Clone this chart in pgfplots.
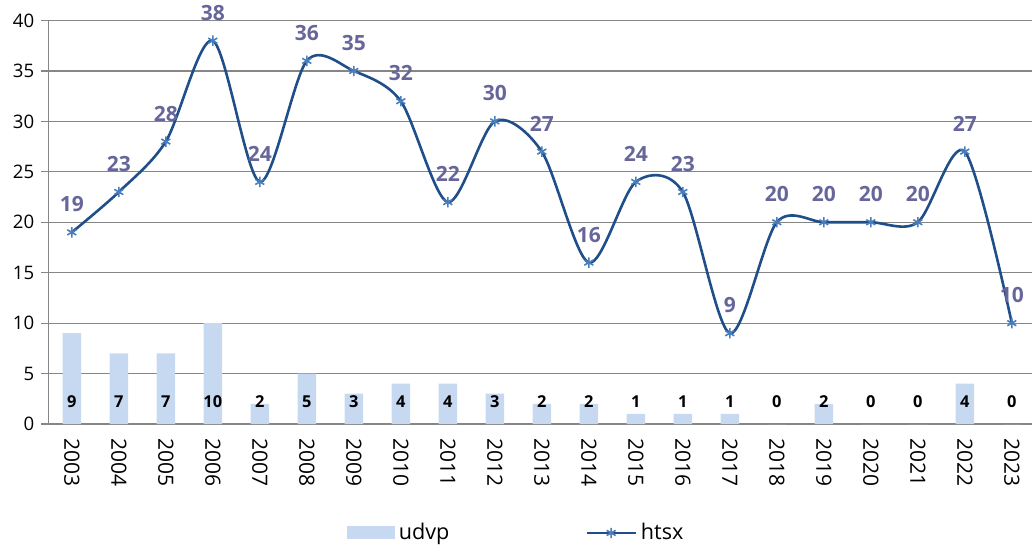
\documentclass[border=0pt]{standalone}
\usepackage{fontspec}
\setmainfont{Open Sans}
\usepackage{pgfplots}
\usepackage{pgfplotstable}
\pgfplotsset{compat=1.18}
\definecolor{barblue}{HTML}{C6D9F1}
\definecolor{linedark}{HTML}{1F4E89}
\definecolor{markblue}{HTML}{4A7EBB}
\definecolor{lblpurple}{HTML}{66669A}
\definecolor{gridgray}{HTML}{868686}
\pgfplotsset{
  mylineleg/.style={legend image code/.code={\draw[mark repeat=2, mark phase=2, ##1] plot coordinates {(0pt,0pt) (12.25pt,0pt) (24.5pt,0pt)};}},
  mybarleg/.style={legend image code/.code={\fill[barblue] (0pt,-3.25pt) rectangle (24pt,3.25pt);}},
}
\pgfplotstableread{
x year udvp htsx
0 2003 9 19
1 2004 7 23
2 2005 7 28
3 2006 10 38
4 2007 2 24
5 2008 5 36
6 2009 3 35
7 2010 4 32
8 2011 4 22
9 2012 3 30
10 2013 2 27
11 2014 2 16
12 2015 1 24
13 2016 1 23
14 2017 1 9
15 2018 0 20
16 2019 2 20
17 2020 0 20
18 2021 0 20
19 2022 4 27
20 2023 0 10
}\data
\begin{document}
\begin{tikzpicture}
\begin{axis}[
  at={(0pt,0pt)}, anchor=south west,
  scale only axis, width=493.5pt, height=201.75pt,
  xmin=-0.5, xmax=20.5, ymin=0, ymax=40,
  axis x line*=bottom, axis y line*=left,
  axis line style={gridgray, line width=0.6pt},
  /pgf/number format/assume math mode=true,
  ytick={0,5,...,40}, ymajorgrids,
  grid style={gridgray, line width=0.6pt},
  tick align=outside,
  y tick style={gridgray, line width=0.6pt},
  major tick length=3.5pt,
  yticklabel style={font=\fontsize{9.3}{11}\selectfont, black},
  xtick={0,...,20},
  xticklabels={2003,2004,2005,2006,2007,2008,2009,2010,2011,2012,2013,2014,2015,2016,2017,2018,2019,2020,2021,2022,2023},
  xticklabel style={rotate=-90, anchor=west, font=\fontsize{10.5}{12}\selectfont, black},
  x tick style={draw=none},
  extra x ticks={-0.5,0.5,...,20.5},
  extra x tick labels={},
  extra x tick style={grid=none, tick style={draw=gridgray, line width=0.6pt}},
  legend columns=2,
  legend style={at={(axis description cs:0.475,-0.27)}, anchor=center, draw=none,
    font=\fontsize{10.8}{12}\selectfont,
    /tikz/column 2/.style={column sep=66pt}},
]
\addplot[ybar, bar width=9.2pt, bar shift=0pt, fill=barblue, draw=none, mybarleg]
  table[x=x, y=udvp]{\data};
\addplot[draw=none, forget plot, nodes near coords, point meta=explicit,
  every node near coord/.style={font=\bfseries\fontsize{8.2}{9}\selectfont, anchor=center, text=black}]
  table[x=x, y expr=2.2, meta=udvp]{\data};
\addplot[smooth, linedark, line width=1.3pt, mark=asterisk, mark size=2.6pt,
  mark options={markblue, line width=0.8pt, solid},
  nodes near coords, point meta=explicit,
  every node near coord/.style={font=\bfseries\fontsize{10.5}{12}\selectfont, anchor=center, yshift=14pt, text=lblpurple},
  mylineleg]
  table[x=x, y=htsx, meta=htsx]{\data};
\legend{udvp, htsx}
\end{axis}
\pgfresetboundingbox
\path[use as bounding box] (-24.15pt,-62pt) rectangle (491.85pt,212pt);
\end{tikzpicture}
\end{document}
